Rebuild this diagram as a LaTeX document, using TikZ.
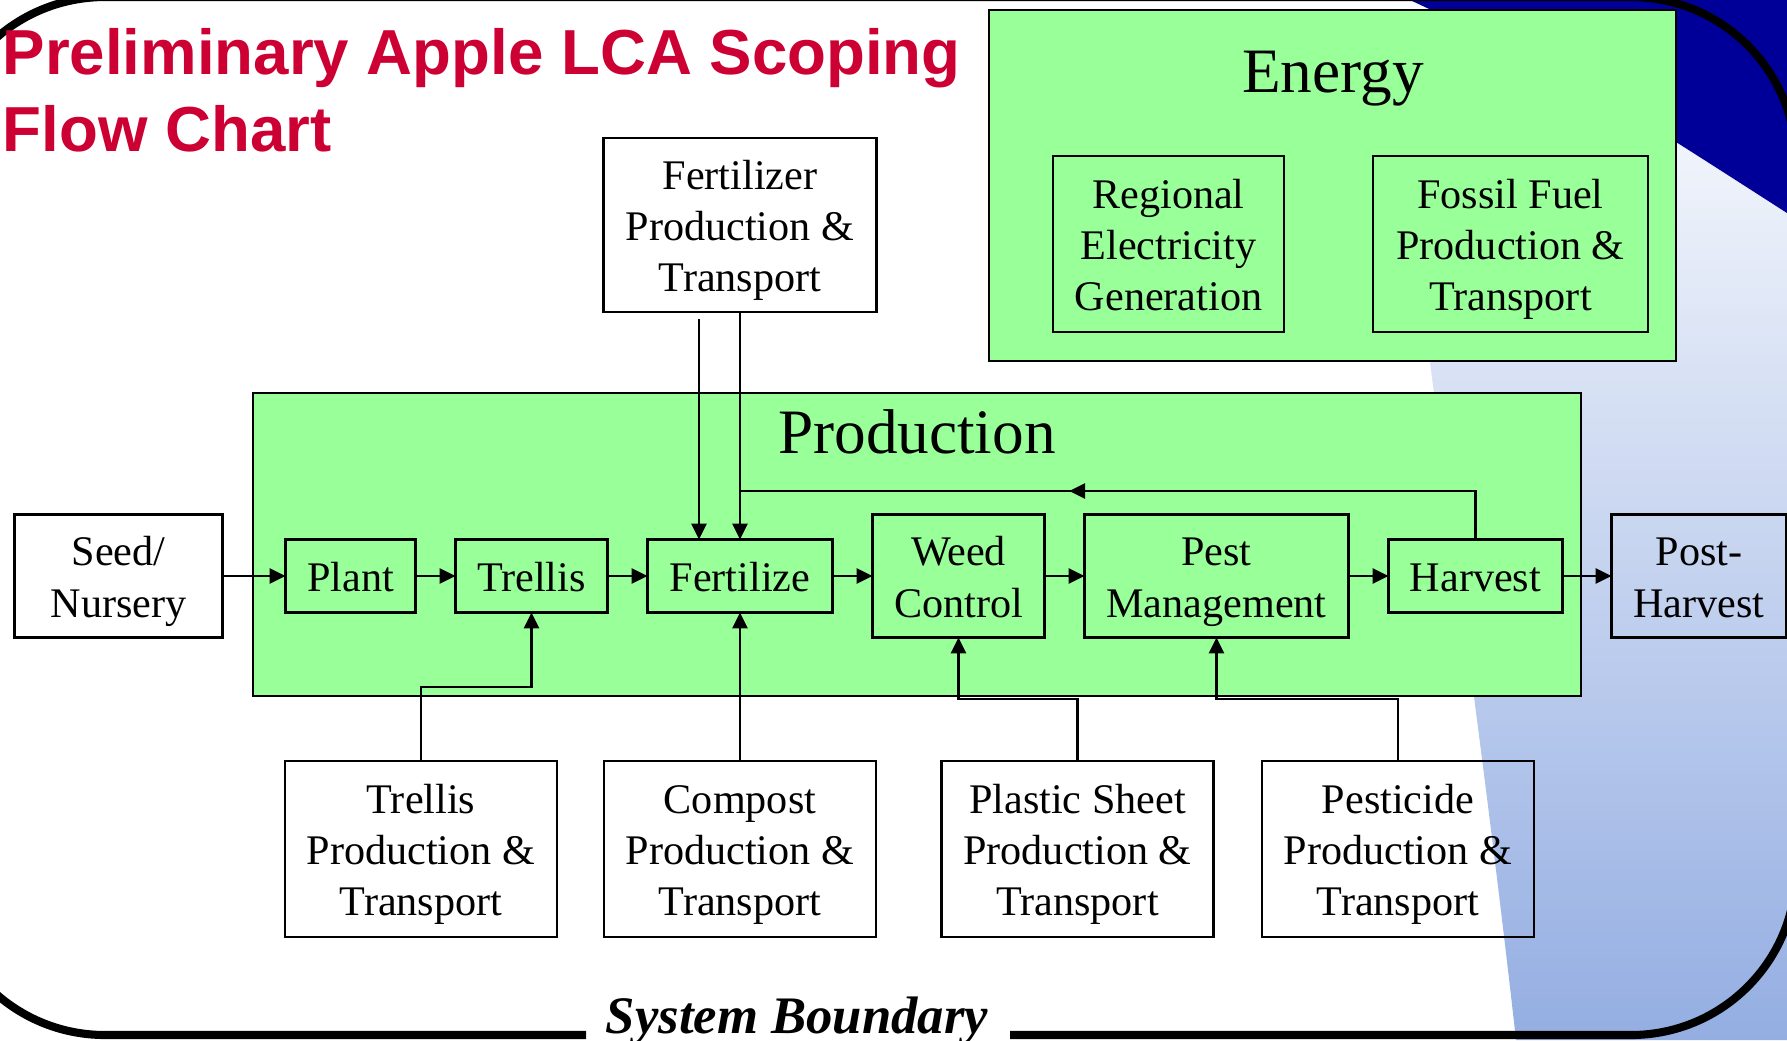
\documentclass[tikz,border=0pt]{standalone}
\usepackage{fontspec}
\setmainfont{Liberation Serif}
\newfontfamily\titlefont{Liberation Sans}
\usetikzlibrary{arrows.meta,positioning,decorations.markings}
\definecolor{lcagreen}{RGB}{153,255,153}
\definecolor{lcanavy}{RGB}{0,0,153}
\definecolor{lcared}{RGB}{204,0,51}
\definecolor{lcasky}{RGB}{148,174,226}
\definecolor{lcamist}{RGB}{210,220,242}

\begin{document}
\begin{tikzpicture}[x=0.1mm,y=-0.1mm,font=\fontsize{12}{14.6}\selectfont,node distance=4mm,
    box/.style={draw,line width=0.6pt,align=center,inner sep=0pt,outer sep=0pt,text depth=2.6pt},
    stage/.style={box,fill=lcagreen,minimum height=7.3mm,text height=11.4pt},
    tall/.style={box,minimum height=12.3mm,text height=26pt},
    supply/.style={box,minimum width=27.2mm,minimum height=17.6mm,text height=40.6pt},
    group/.style={draw,line width=0.8pt,fill=lcagreen,inner sep=0pt},
    arr/.style={-{Triangle[length=4.5pt,width=4.3pt]},line width=0.6pt}]
  \useasboundingbox (0,0) rectangle (1787,1040);
  \clip (0,0) rectangle (1787,1040);
  % background
  \shade[top color=white,middle color=lcamist,bottom color=lcasky]
    (1385,0) .. controls (1425,350) and (1478,700) .. (1516,1040) -- (1787,1040) -- (1787,0) -- cycle;
  \fill[lcanavy] (1410,0) .. controls (1580,80) .. (1787,213) -- (1787,0) -- cycle;
  \draw[line width=2.3pt,rounded corners=16.5mm]
    (586,1035) -- (-60,1035) -- (-60,-3) -- (1796,-3) -- (1796,1035) -- (1010,1035);
  \node[anchor=base,font=\bfseries\itshape\fontsize{15}{15}\selectfont,inner sep=0pt] (sysb) at (797,1033) {System Boundary};
  % title
  \node[anchor=base west,inner sep=0pt,text=lcared,font=\titlefont\bfseries\fontsize{18.1}{18}\selectfont] (title1) at (2,74) {Preliminary Apple LCA Scoping};
  \node[anchor=base west,inner sep=0pt,text=lcared,font=\titlefont\bfseries\fontsize{18.1}{18}\selectfont] (title2) at (2,151) {Flow Chart};
  % energy
  \node[group,minimum width=68.7mm,minimum height=35.1mm] (energy) at (1332.5,185.5) {};
  \node[anchor=base,inner sep=0pt,font=\fontsize{18}{20}\selectfont] (energylbl) at (1333,92) {Energy};
  \node[supply,fill=lcagreen,minimum width=23.1mm] (elec) at (1168.5,244) {Regional\\Electricity\\Generation};
  \node[supply,fill=lcagreen,minimum width=27.5mm] (fossil) at (1510.5,244) {Fossil Fuel\\Production \&\\Transport};
  % production
  \node[group,minimum width=132.8mm,minimum height=30.3mm] (prod) at (917,544.5) {};
  \node[anchor=base,inner sep=0pt,font=\fontsize{18}{20}\selectfont] (prodlbl) at (917,453) {Production};
  \node[stage,minimum width=18.5mm] (fertilize) at (740,576) {Fertilize};
  \node[stage,minimum width=15.2mm,left=of fertilize] (trellis) {Trellis};
  \node[stage,minimum width=13mm,left=of trellis] (plant) {Plant};
  \node[tall,minimum width=20.8mm,left=6.3mm of plant] (seed) {Seed/\\Nursery};
  \node[tall,fill=lcagreen,minimum width=17.2mm,right=of fertilize] (weed) {Weed\\Control};
  \node[tall,fill=lcagreen,minimum width=26.4mm,right=of weed] (pest) {Pest\\Management};
  \node[stage,minimum width=17.4mm,right=of pest] (harvest) {Harvest};
  \node[tall,minimum width=17.5mm,right=4.9mm of harvest] (post) {Post-\\Harvest};
  % suppliers
  \node[supply,minimum width=27.3mm,minimum height=17.4mm] (fertpt) at (740,225) {Fertilizer\\Production \&\\Transport};
  \node[supply] (trellispt) at (421,849) {Trellis\\Production \&\\Transport};
  \node[supply] (compostpt) at (740,849) {Compost\\Production \&\\Transport};
  \node[supply] (plasticpt) at (1077.5,849) {Plastic Sheet\\Production \&\\Transport};
  \node[supply] (pestpt) at (1398,849) {Pesticide\\Production \&\\Transport};
  \coordinate (fbk) at (740,491);
  % flows
  \draw[arr] (seed) -- (plant);
  \draw[arr] (plant) -- (trellis);
  \draw[arr] (trellis) -- (fertilize);
  \draw[arr] (fertilize) -- (weed);
  \draw[arr] (weed) -- (pest);
  \draw[arr] (pest) -- (harvest);
  \draw[arr] (harvest) -- (post);
  \draw[arr] (fertpt) -- (fertilize);
  \draw[arr] ([xshift=-4.1mm,yshift=-0.7mm]fertpt.south) -- ([xshift=-4.1mm]fertilize.north);
  \draw[line width=0.6pt,postaction={decorate},decoration={markings,
      mark=at position 0.58 with {\arrow{Triangle[length=4.5pt,width=4.3pt]}}}]
    (harvest.north) |- (fbk);
  \draw[arr] (trellispt.north) -- ++(0,-74) -| (trellis.south);
  \draw[arr] (compostpt) -- (fertilize);
  \draw[arr] (plasticpt.north) -- ++(0,-62) -| (weed.south);
  \draw[arr] (pestpt.north) -- ++(0,-62) -| (pest.south);
\end{tikzpicture}
\end{document}
